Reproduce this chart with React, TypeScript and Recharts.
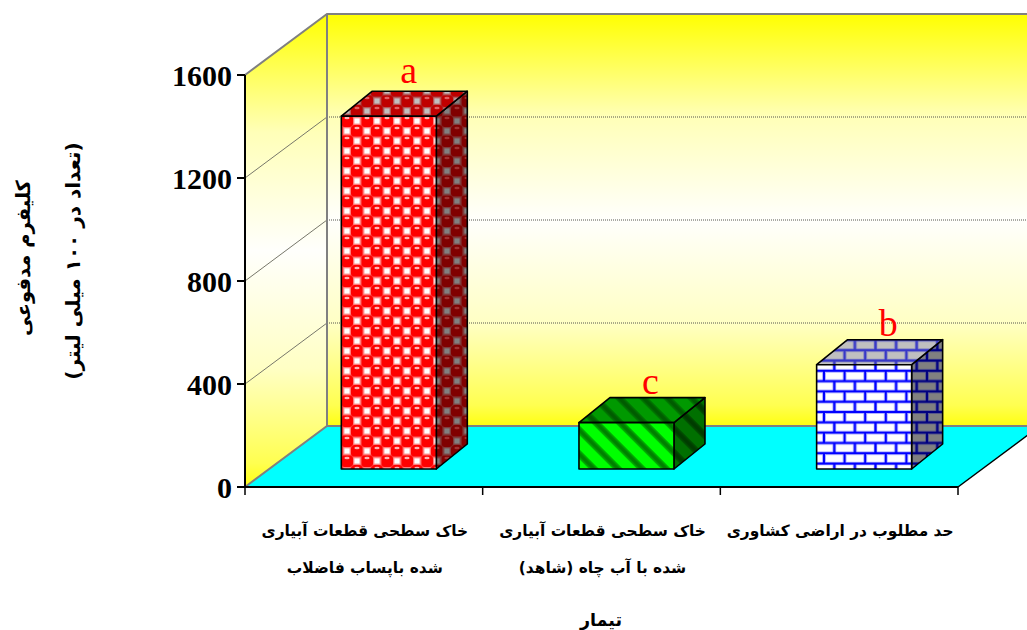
import { BarChart, Bar, XAxis, YAxis, LabelList } from "recharts";

const categories = ["soil-wastewater", "soil-well", "limit"];
const labelLines = [
    ["خاک سطحی قطعات آبیاری", "شده باپساب فاضلاب"],
    ["خاک سطحی قطعات آبیاری", "شده با آب چاه (شاهد)"],
    ["حد مطلوب در اراضی کشاوری", ""],
];
const coliform = [1370, 180, 405];
const letters = ["a", "c", "b"];
const yTicks = [0, 400, 800, 1200, 1600];
const yTitle = ["کلیفرم مدفوعی", "(تعداد در ۱۰۰ میلی لیتر)"];
const xTitle = "تیمار";

const data = categories.map((name, i) => ({ name, coliform: coliform[i], letter: letters[i] }));

const WIDTH = 1027;
const HEIGHT = 630;
const LEFT = 245;
const RIGHT = 958;
const TOP = 75;
const BOTTOM = 487;
// depth of the box and of each bar
const DX = 82;
const DY = 61;
const BAR_DX = 31;
const BAR_DY = 25;
const SHIFT_X = 25;
const SHIFT_Y = 18;

const FACE_FONT = "'DejaVu Sans', sans-serif";
const yOf = (v: number) => BOTTOM - ((BOTTOM - TOP) * v) / 1600;

function Balls({ id, bg, ball, shine, square, halo }: any) {
    const spot = (x: number, y: number) => (
        <g key={`${x}-${y}`}>
            <circle cx={x} cy={y} r={6.6} fill={ball} />
            <ellipse cx={x} cy={y - 3} rx={2.6} ry={1.3} fill={shine} />
        </g>
    );
    const sq = (x: number, y: number) => (
        <rect key={`s${x}-${y}`} x={x - 3.2} y={y - 3.2} width={6.4} height={6.4} fill={square} stroke={halo} strokeWidth={1.2} />
    );
    return (
        <pattern id={id} patternUnits="userSpaceOnUse" width={20} height={20} x={342} y={116}>
            <rect width={20} height={20} fill={bg} />
            {spot(5, 5)}
            {spot(15, 15)}
            {spot(25, -5)}
            {spot(-5, 25)}
            {sq(15, 5)}
            {sq(5, 15)}
        </pattern>
    );
}

function Bricks({ id, mortar, brick, edge }: any) {
    const rows = [
        [1.5, 1.5, 17.6],
        [-8.8, 11.8, 17.6],
        [11.8, 11.8, 17.6],
    ];
    return (
        <pattern id={id} patternUnits="userSpaceOnUse" width={20.6} height={20.6}>
            <rect width={20.6} height={20.6} fill={mortar} />
            {rows.map((r, i) => (
                <rect key={i} x={r[0]} y={r[1]} width={r[2]} height={7.4} fill={brick} stroke={edge} strokeWidth={0.7} />
            ))}
        </pattern>
    );
}

function Stripes({ id, bg, stripe, soft }: any) {
    return (
        <pattern id={id} patternUnits="userSpaceOnUse" width={17} height={17} patternTransform="rotate(-45)">
            <rect width={17} height={17} fill={bg} />
            <rect width={7} height={17} fill={soft} />
            <rect x={1.5} width={4} height={17} fill={stripe} />
        </pattern>
    );
}

function WallStops() {
    return (
        <>
            <stop offset="0" stopColor="#FFFF00" />
            <stop offset="0.25" stopColor="#FFFFB8" />
            <stop offset="0.5" stopColor="#FFFFFC" />
            <stop offset="0.75" stopColor="#FFFFC4" />
            <stop offset="0.95" stopColor="#FFFF50" />
            <stop offset="1" stopColor="#FFFF10" />
        </>
    );
}

function Defs() {
    return (
        <defs>
            <linearGradient id="wallFill" gradientUnits="userSpaceOnUse" x1="0" y1={TOP - DY} x2="0" y2={BOTTOM - DY}>
                <WallStops />
            </linearGradient>
            <linearGradient id="sideFill" gradientUnits="userSpaceOnUse" x1="0" y1={TOP - DY} x2="0" y2={BOTTOM}>
                <WallStops />
            </linearGradient>
            <Balls id="f0" bg="#FF3030" ball="#FF0000" shine="#FFB0B0" square="#FFFFFF" halo="#FF8888" />
            <Balls id="t0" bg="#B02020" ball="#C00000" shine="#E06060" square="#C0C0C0" halo="#B86060" />
            <Balls id="s0" bg="#802020" ball="#800000" shine="#A03030" square="#808080" halo="#804040" />
            <Stripes id="f1" bg="#00FF00" stripe="#008000" soft="#00B000" />
            <Stripes id="t1" bg="#009900" stripe="#005C00" soft="#007800" />
            <Stripes id="s1" bg="#007000" stripe="#003C00" soft="#005000" />
            <Bricks id="f2" mortar="#0000FF" brick="#FFFFFF" edge="#C8C8FF" />
            <Bricks id="t2" mortar="#3838C8" brick="#C0C0C0" edge="#9090C0" />
            <Bricks id="s2" mortar="#000080" brick="#808080" edge="#606090" />
        </defs>
    );
}

function Walls() {
    const backTop = TOP - DY;
    const backBottom = BOTTOM - DY;
    const step = (RIGHT - LEFT) / categories.length;
    return (
        <g>
            <polygon points={`${LEFT},${TOP} ${LEFT + DX},${backTop} ${LEFT + DX},${backBottom} ${LEFT},${BOTTOM}`} fill="url(#sideFill)" />
            <rect x={LEFT + DX} y={backTop} width={WIDTH - LEFT - DX} height={BOTTOM - TOP} fill="url(#wallFill)" />
            <polygon points={`${LEFT},${BOTTOM} ${RIGHT},${BOTTOM} ${RIGHT + DX},${backBottom} ${LEFT + DX},${backBottom}`} fill="#00FFFF" />
            {yTicks.slice(1, 4).map((v) => (
                <g key={v}>
                    <line x1={LEFT} y1={yOf(v)} x2={LEFT + DX} y2={yOf(v) - DY} stroke="#77776a" strokeWidth={1} />
                    <line x1={LEFT + DX} y1={yOf(v) - DY} x2={WIDTH} y2={yOf(v) - DY} stroke="#55554a" strokeWidth={1} strokeDasharray="1 1" />
                </g>
            ))}
            <g stroke="#808080" strokeWidth={2} fill="none">
                <polyline points={`${LEFT},${TOP} ${LEFT + DX},${backTop} ${WIDTH},${backTop}`} />
                <line x1={LEFT + DX} y1={backTop} x2={LEFT + DX} y2={backBottom} />
                <polyline points={`${LEFT},${BOTTOM} ${LEFT + DX},${backBottom} ${WIDTH},${backBottom}`} />
            </g>
            <line x1={RIGHT} y1={BOTTOM} x2={RIGHT + DX} y2={backBottom} stroke="#000" strokeWidth={1.5} />
            {[0, 1, 2, 3].map((i) => (
                <line key={i} x1={LEFT + step * i} y1={BOTTOM} x2={LEFT + step * i} y2={BOTTOM + 8} stroke="#000" strokeWidth={1.5} />
            ))}
        </g>
    );
}

function Titles() {
    return (
        <g fontFamily={FACE_FONT} fontWeight="bold" fill="#000" textAnchor="middle" direction="rtl">
            <text fontSize={19.5} transform="translate(30 258) rotate(-90)">{yTitle[0]}</text>
            <text fontSize={20} transform="translate(80 261) rotate(-90)">{yTitle[1]}</text>
            <text fontSize={17.5} x={601} y={626}>{xTitle}</text>
        </g>
    );
}

function Box3D(props: any) {
    const { x, y, width, height, index } = props;
    const l = x + SHIFT_X;
    const t = y - SHIFT_Y;
    const r = l + width;
    const b = t + height;
    const face = { stroke: "#000", strokeWidth: 1.6, strokeLinejoin: "round" as const };
    return (
        <g>
            <polygon points={`${r},${t} ${r + BAR_DX},${t - BAR_DY} ${r + BAR_DX},${b - BAR_DY} ${r},${b}`} fill={`url(#s${index})`} {...face} />
            <polygon points={`${l},${t} ${l + BAR_DX},${t - BAR_DY} ${r + BAR_DX},${t - BAR_DY} ${r},${t}`} fill={`url(#t${index})`} {...face} />
            <rect x={l} y={t} width={width} height={height} fill={`url(#f${index})`} {...face} />
        </g>
    );
}

function Letter(props: any) {
    const { x, y, width, value } = props;
    // the tall bar's letter sits a little closer in than the other two
    const nudge = value === "a" ? -4 : 0;
    return (
        <text x={x + width / 2 + SHIFT_X + 24 + nudge} y={y - SHIFT_Y - 29 + nudge} textAnchor="middle" fill="#FF0000" fontFamily="'Liberation Serif', serif" fontSize={38}>
            {value}
        </text>
    );
}

function CategoryTick(props: any) {
    const { x, payload } = props;
    const lines = labelLines[payload.index] ?? [];
    return (
        <g fontFamily={FACE_FONT} fontWeight="bold" fontSize={15.4} fill="#000" textAnchor="middle" direction="rtl">
            <text x={x + 1} y={536}>{lines[0]}</text>
            <text x={x + 1} y={573}>{lines[1]}</text>
        </g>
    );
}

export default function App() {
    return (
        <div style={{ position: "absolute", left: 0, top: 0, width: WIDTH, height: HEIGHT }}>
            <BarChart
                width={WIDTH}
                height={HEIGHT}
                data={data}
                barCategoryGap="30%"
                margin={{ top: TOP, right: WIDTH - RIGHT, left: 0, bottom: 0 }}
            >
                <Defs />
                <Walls />
                <Titles />
                <XAxis dataKey="name" height={HEIGHT - BOTTOM} interval={0} tickLine={false} tick={<CategoryTick />} stroke="#000" strokeWidth={2} />
                <YAxis
                    width={LEFT}
                    domain={[0, 1600]}
                    ticks={yTicks}
                    tickSize={8}
                    tickMargin={5}
                    stroke="#000"
                    strokeWidth={2}
                    tick={{ fontFamily: "'Liberation Serif', serif", fontWeight: "bold", fontSize: 30, fill: "#000" }}
                />
                <Bar dataKey="coliform" shape={<Box3D />} isAnimationActive={false}>
                    <LabelList dataKey="letter" content={<Letter />} />
                </Bar>
            </BarChart>
        </div>
    );
}
